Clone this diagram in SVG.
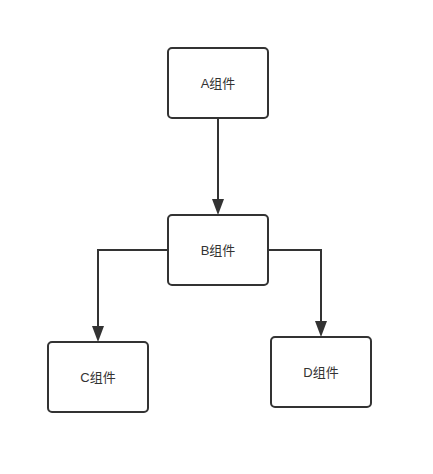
<svg xmlns="http://www.w3.org/2000/svg" width="433" height="474" viewBox="0 0 433 474">
<style>
.box{fill:#fff;stroke:#333;stroke-width:2}
.lbl{font-family:"Liberation Sans","Noto Sans CJK SC",sans-serif;font-size:13px;fill:#333;text-anchor:middle;dominant-baseline:central}
.edge{fill:none;stroke:#333;stroke-width:2}
</style>
<rect width="433" height="474" fill="#fff"/>
<g id="connectors">
<path class="edge" d="M218,118 L218,199"/>
<path d="M212,199 L224,199 L218,215 Z" fill="#333"/>
<path class="edge" d="M168,250 L98,250 L98,326"/>
<path d="M92,326 L104,326 L98,342 Z" fill="#333"/>
<path class="edge" d="M268,250 L321,250 L321,321"/>
<path d="M315,321 L327,321 L321,337 Z" fill="#333"/>
</g>
<g id="nodeA"><rect class="box" x="168" y="48" width="100" height="70" rx="4"/><text class="lbl" x="218" y="83">A组件</text></g>
<g id="nodeB"><rect class="box" x="168" y="215" width="100" height="70" rx="4"/><text class="lbl" x="218" y="250">B组件</text></g>
<g id="nodeC"><rect class="box" x="48" y="342" width="100" height="70" rx="4"/><text class="lbl" x="98" y="377">C组件</text></g>
<g id="nodeD"><rect class="box" x="271" y="337" width="100" height="70" rx="4"/><text class="lbl" x="321" y="372">D组件</text></g>
</svg>
